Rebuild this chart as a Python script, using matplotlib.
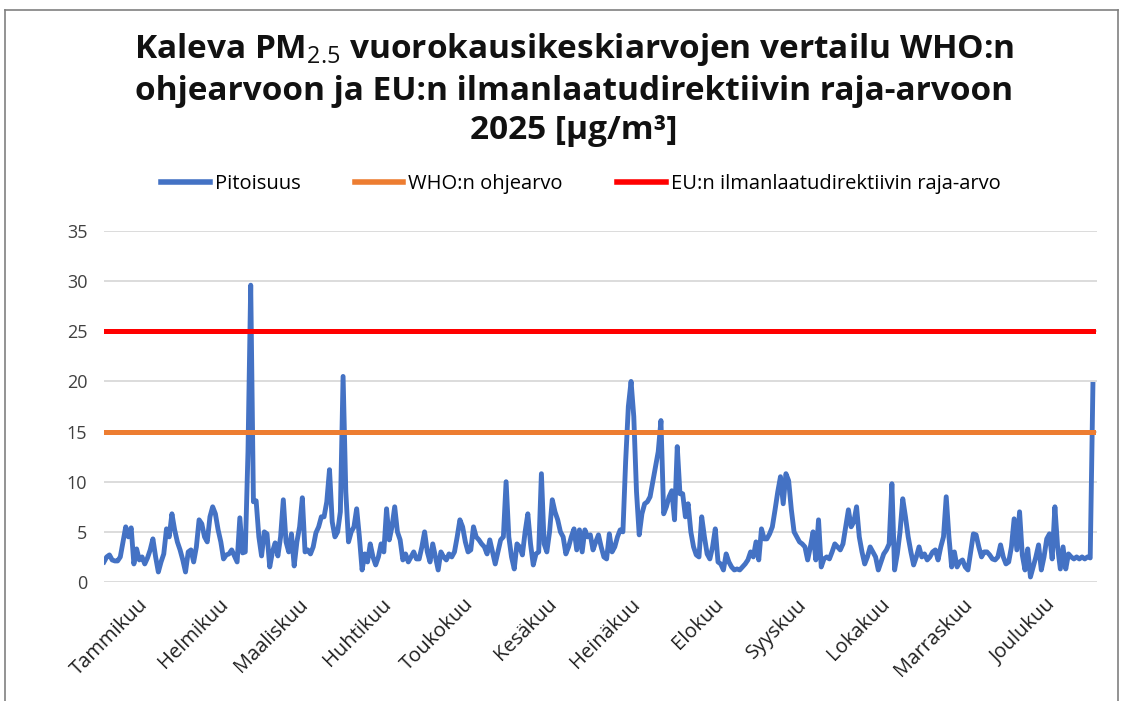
# -*- coding: utf-8 -*-
"""Kaleva PM2.5 daily means 2025 vs WHO guideline and EU limit."""

import matplotlib

matplotlib.use("Agg")
import matplotlib.pyplot as plt
from matplotlib.lines import Line2D
import numpy as np

plt.rcParams["font.family"] = ["Open Sans", "DejaVu Sans"]
plt.rcParams["mathtext.fontset"] = "custom"
plt.rcParams["mathtext.rm"] = "Open Sans"
plt.rcParams["mathtext.bf"] = "Open Sans:bold"

# ==================== Data ====================
MONTHS = ["Tammikuu", "Helmikuu", "Maaliskuu", "Huhtikuu", "Toukokuu", "Kesäkuu",
          "Heinäkuu", "Elokuu", "Syyskuu", "Lokakuu", "Marraskuu", "Joulukuu"]

JAN = [2.0, 2.5, 2.7, 2.2, 2.1, 2.1, 2.5, 4.0, 5.5, 4.5, 5.4, 1.8, 3.3, 2.2, 2.5, 1.8,
       2.4, 3.2, 4.3, 2.5, 1.0, 2.0, 2.8, 5.3, 4.5, 6.8, 5.2, 4.0, 3.2, 2.2, 1.0]
FEB = [3.0, 3.2, 2.0, 3.5, 6.2, 5.8, 4.5, 4.0, 6.5, 7.5, 6.8, 5.2, 4.0, 2.3, 2.7, 2.8,
       3.2, 2.6, 2.0, 6.4, 2.9, 3.0, 13.0, 29.6, 8.0, 8.1, 4.5, 2.6]
MAR = [5.0, 4.8, 1.5, 3.0, 3.9, 2.6, 4.5, 8.2, 4.0, 3.0, 4.8, 1.6, 4.0, 5.5, 8.4, 3.0,
       3.2, 2.8, 3.5, 4.9, 5.5, 6.5, 6.5, 8.0, 11.2, 6.0, 4.5, 5.0, 7.0, 20.5, 9.0]
APR = [4.0, 5.0, 5.5, 7.3, 4.5, 1.2, 2.8, 2.0, 3.8, 2.5, 1.7, 2.5, 3.8, 3.0, 7.3, 4.2,
       5.5, 7.5, 5.0, 4.2, 2.2, 2.8, 2.0, 2.5, 3.0, 2.3, 2.3, 3.5, 5.0, 3.0]
MAY = [2.0, 3.8, 2.5, 1.2, 3.0, 2.5, 2.2, 2.8, 2.5, 3.0, 4.5, 6.2, 5.5, 4.0, 3.0, 3.2,
       5.5, 4.5, 4.2, 3.8, 3.5, 2.8, 4.2, 3.0, 1.8, 3.0, 4.2, 4.5, 10.0, 4.5, 2.5]
JUN = [1.3, 3.8, 3.5, 2.7, 5.0, 6.8, 3.8, 1.7, 2.8, 3.0, 10.8, 3.8, 3.0, 5.0, 8.2, 7.0,
       6.2, 5.0, 4.5, 2.8, 3.5, 4.5, 5.3, 3.2, 5.2, 3.0, 5.2, 4.5, 4.7, 3.2]
JUL = [4.0, 4.7, 3.5, 2.5, 2.3, 4.8, 3.0, 3.5, 4.5, 5.2, 5.0, 12.0, 17.5, 20.0, 16.5, 9.0,
       4.7, 6.8, 7.8, 8.0, 8.5, 10.0, 11.5, 13.0, 16.1, 6.8, 7.5, 8.5, 9.1, 6.2, 13.5]
AUG = [8.8, 8.8, 6.5, 7.8, 5.0, 3.5, 2.7, 2.5, 6.5, 4.5, 2.8, 2.3, 3.5, 5.3, 2.0, 1.8,
       1.2, 2.8, 2.0, 1.5, 1.2, 1.3, 1.2, 1.5, 1.8, 2.2, 3.0, 2.5, 4.0, 2.2, 5.3]
SEP = [4.3, 4.3, 4.8, 5.5, 7.2, 9.0, 10.5, 7.8, 10.8, 10.1, 7.2, 5.0, 4.5, 4.0, 3.8, 3.5,
       2.2, 3.5, 5.0, 2.2, 6.2, 1.5, 2.3, 2.5, 2.3, 3.0, 3.8, 3.5, 3.2, 3.8]
OCT = [5.5, 7.2, 5.5, 6.0, 7.5, 4.5, 3.0, 1.8, 2.5, 3.5, 3.0, 2.5, 1.2, 2.0, 2.8, 3.2,
       3.8, 9.8, 1.2, 2.8, 5.0, 8.3, 6.5, 4.5, 3.0, 1.7, 2.5, 3.5, 2.5, 2.8, 2.2]
NOV = [2.5, 3.0, 3.2, 2.2, 3.5, 4.5, 8.5, 4.5, 1.5, 3.0, 1.5, 2.0, 2.2, 1.5, 1.2, 3.0,
       4.8, 4.7, 3.5, 2.5, 3.0, 3.0, 2.7, 2.3, 2.2, 2.5, 3.7, 2.5, 1.8, 2.0]
DEC = [3.5, 6.3, 3.2, 7.0, 2.7, 1.2, 3.3, 0.5, 1.5, 2.5, 3.7, 1.2, 2.5, 4.3, 4.8, 2.3,
       7.5, 3.5, 1.3, 3.5, 1.3, 2.8, 2.5, 2.3, 2.5, 2.3, 2.5, 2.3, 2.5, 2.4, 19.7]

WHO_LIMIT = 15
EU_LIMIT = 25
# ==============================================

BLUE = "#4472C4"
ORANGE = "#ED7D31"
RED = "#FF0000"


def main():
    months = [JAN, FEB, MAR, APR, MAY, JUN, JUL, AUG, SEP, OCT, NOV, DEC]
    values = np.concatenate([np.array(m, dtype=float) for m in months])
    days = np.arange(len(values))
    lengths = [len(m) for m in months]
    starts = np.concatenate([[0], np.cumsum(lengths)[:-1]])
    mids = starts + np.array(lengths) / 2.0

    fig = plt.figure(figsize=(11.28, 7.01), dpi=100)
    ax = fig.add_axes([104 / 1128, 1 - 582 / 701, (1097 - 104) / 1128, (582 - 231) / 701])

    ax.plot(days, values, color=BLUE, linewidth=3.5, solid_joinstyle="round", zorder=3)
    ax.plot(days, np.full(len(days), WHO_LIMIT), color=ORANGE, linewidth=3.6, zorder=4)
    ax.plot(days, np.full(len(days), EU_LIMIT), color=RED, linewidth=3.6, zorder=4)

    ax.set_xlim(0, 365.5)
    ax.set_ylim(0, 35)
    ax.set_yticks(np.arange(0, 36, 5))
    ax.yaxis.grid(True, color="#d9d9d9", linewidth=1.3)
    ax.set_axisbelow(True)
    for s in ax.spines.values():
        s.set_visible(False)
    ax.tick_params(axis="y", length=0, pad=12, labelsize=13, labelcolor="#404040")
    ax.tick_params(axis="x", length=0, pad=9, labelsize=14.5, labelcolor="#202020")
    ax.set_xticks(mids - 3)
    ax.set_xticklabels(MONTHS, rotation=45, ha="right", va="top", rotation_mode="anchor")

    fig.text(574 / 1128, 1 - 31 / 701,
             "Kaleva PM$_{2.5}$ vuorokausikeskiarvojen vertailu WHO:n\n"
             "ohjearvoon ja EU:n ilmanlaatudirektiivin raja-arvoon\n"
             "2025 [µg/m³]",
             ha="center", va="top", fontsize=24, fontweight="bold",
             linespacing=1.26, color="#111111")

    handles = [Line2D([], [], color=BLUE, linewidth=4),
               Line2D([], [], color=ORANGE, linewidth=4),
               Line2D([], [], color=RED, linewidth=4)]
    labels = ["Pitoisuus", "WHO:n ohjearvo", "EU:n ilmanlaatudirektiivin raja-arvo"]
    fig.legend(handles, labels, loc="center", bbox_to_anchor=(0.515, 1 - 184 / 701),
               ncol=3, frameon=False, fontsize=14.5, handlelength=2.4,
               handletextpad=0.25, columnspacing=2.7)

    # chart border
    border = dict(color="#808080", linewidth=1.2, transform=fig.transFigure)
    fig.add_artist(Line2D([5 / 1128, 1118 / 1128], [1 - 10 / 701, 1 - 10 / 701], **border))
    fig.add_artist(Line2D([5 / 1128, 5 / 1128], [0, 1 - 10 / 701], **border))
    fig.add_artist(Line2D([1118 / 1128, 1118 / 1128], [0, 1 - 10 / 701], **border))

    fig.savefig("out.png", dpi=100)
    plt.close(fig)


if __name__ == "__main__":
    main()
